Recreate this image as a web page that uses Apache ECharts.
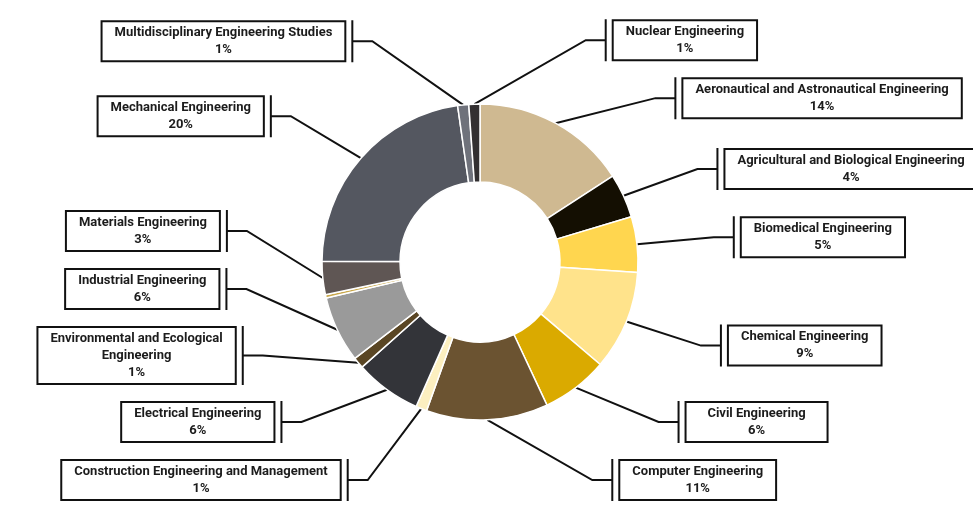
<!DOCTYPE html>
<html>
<head>
<meta charset="utf-8">
<script src="https://cdn.jsdelivr.net/npm/echarts@6/dist/echarts.min.js"></script>
<style>
  html, body { margin: 0; padding: 0; background: #ffffff; }
  #chart { width: 973px; height: 520px; }
</style>
</head>
<body>
<div id="chart"></div>
<script>
// Share of engineering students by program (percent), clockwise from 12 o'clock
const programs = [
  'Aeronautical and Astronautical Engineering',
  'Agricultural and Biological Engineering',
  'Biomedical Engineering',
  'Chemical Engineering',
  'Civil Engineering',
  'Computer Engineering',
  'Construction Engineering and Management',
  'Electrical Engineering',
  'Environmental and Ecological\nEngineering',
  'Industrial Engineering',
  '',
  'Materials Engineering',
  'Mechanical Engineering',
  'Multidisciplinary Engineering Studies',
  'Nuclear Engineering'
];
const shares = [14, 4, 5, 9, 6, 11, 1, 6, 1, 6, 0.3, 3, 20, 1, 1];
const palette = [
  '#CFB991', '#140F02', '#FFD64F', '#FFE38B', '#DAAA00', '#6B5331',
  '#FCEFC0', '#333439', '#5A4624', '#9A9A9A', '#C9A84C', '#5F5654',
  '#545760', '#6F727B', '#333031'
];

// ---- geometry & label styling ----
const CX = 480, CY = 262, R_IN = 80, R_OUT = 158;
const R_LABEL = 222;      // radius giving a label's preferred height
const R_BAR = 255;        // circle on which the leader bars sit
const LEG = 20;           // horizontal leg of the label line
const BOX_GAP = 8;        // gap between the leader bar and the box
const V_GAP = 18;         // minimum vertical gap between boxes
const TOP = 4, BOTTOM = 500;
const FONT_FAMILY = '"Liberation Sans Narrow", "Roboto", sans-serif';
const FONT_SIZE = 13, LINE_H = 17, PAD_V = 2, PAD_H = 10, MIN_TEXT_W = 120;

const measureCtx = document.createElement('canvas').getContext('2d');
measureCtx.font = 'bold ' + FONT_SIZE + 'px ' + FONT_FAMILY;
function textWidth(s) {
  return Math.max.apply(null, s.split('\n').map(l => measureCtx.measureText(l).width));
}

// Place the boxes: preferred height from the slice angle, then spread each side
function planLabels() {
  const total = shares.reduce((a, b) => a + b, 0);
  const items = [];
  let acc = 0;
  shares.forEach((v, i) => {
    const mid = (acc + v / 2) / total * Math.PI * 2;   // clockwise from top
    acc += v;
    if (!programs[i]) return;
    const s = Math.sin(mid), c = Math.cos(mid);
    const lines = programs[i].split('\n').length + 1;
    items.push({
      index: i,
      right: s > -0.06,
      h: lines * LINE_H + PAD_V * 2 + 2,
      anchor: [CX + R_OUT * s, CY - R_OUT * c],
      y: CY - R_LABEL * c
    });
  });
  [true, false].forEach(side => {
    const list = items.filter(d => d.right === side).sort((a, b) => a.y - b.y);
    const n = list.length;
    const pushDown = () => {
      for (let k = 1; k < n; k++) {
        const min = list[k - 1].y + list[k - 1].h / 2 + V_GAP + list[k].h / 2;
        if (list[k].y < min) list[k].y = min;
      }
    };
    pushDown();
    if (list[n - 1].y > BOTTOM - list[n - 1].h / 2) list[n - 1].y = BOTTOM - list[n - 1].h / 2;
    for (let k = n - 2; k >= 0; k--) {
      const max = list[k + 1].y - list[k + 1].h / 2 - V_GAP - list[k].h / 2;
      if (list[k].y > max) list[k].y = max;
    }
    if (list[0].y < TOP + list[0].h / 2) list[0].y = TOP + list[0].h / 2;
    pushDown();
  });
  const plan = {};
  items.forEach(d => {
    const dir = d.right ? 1 : -1;
    const dy = d.y - CY;
    const barX = CX + dir * Math.sqrt(Math.max(0, R_BAR * R_BAR - dy * dy));
    plan[d.index] = {
      right: d.right,
      y: d.y,
      points: [d.anchor, [barX - dir * LEG, d.y], [barX, d.y]],
      barX: barX,
      boxX: barX + dir * BOX_GAP
    };
  });
  return plan;
}
const labelPlan = planLabels();

const seriesData = programs.map((name, i) => {
  const item = { name: name, value: shares[i], itemStyle: { color: palette[i] } };
  if (!name) {
    item.label = { show: false };
    item.labelLine = { show: false };
  } else {
    item.label = { width: Math.max(textWidth(name) + 4, MIN_TEXT_W) };
  }
  return item;
});

const chart = echarts.init(document.getElementById('chart'), null, { renderer: 'canvas' });
chart.setOption({
  animation: false,
  backgroundColor: '#ffffff',
  series: [{
    type: 'pie',
    center: [CX, CY],
    radius: [R_IN, R_OUT],
    startAngle: 90,
    clockwise: true,
    avoidLabelOverlap: false,
    itemStyle: { borderColor: '#ffffff', borderWidth: 1.5 },
    label: {
      show: true,
      position: 'outside',
      formatter: p => '{t|' + p.name.split('\n').join('}\n{t|') + '}\n{t|' + p.value + '%}',
      backgroundColor: '#ffffff',
      borderColor: '#111111',
      borderWidth: 2,
      padding: [PAD_V, PAD_H],
      rich: {
        t: {
          align: 'center',
          fontFamily: FONT_FAMILY,
          fontWeight: 'bold',
          fontSize: FONT_SIZE,
          lineHeight: LINE_H,
          color: '#1c1c1c'
        }
      }
    },
    labelLine: {
      show: true,
      smooth: false,
      lineStyle: { color: '#111111', width: 2 }
    },
    labelLayout: function (p) {
      const L = labelPlan[p.dataIndex];
      if (!L) return {};
      const h = p.labelRect.height;
      return {
        x: L.boxX,
        y: L.y,
        align: L.right ? 'left' : 'right',
        verticalAlign: 'middle',
        // leader line ends in a vertical bar beside the box
        labelLinePoints: L.points.concat([[L.barX, L.y - h / 2], [L.barX, L.y + h / 2]])
      };
    },
    data: seriesData
  }]
});
</script>
</body>
</html>
